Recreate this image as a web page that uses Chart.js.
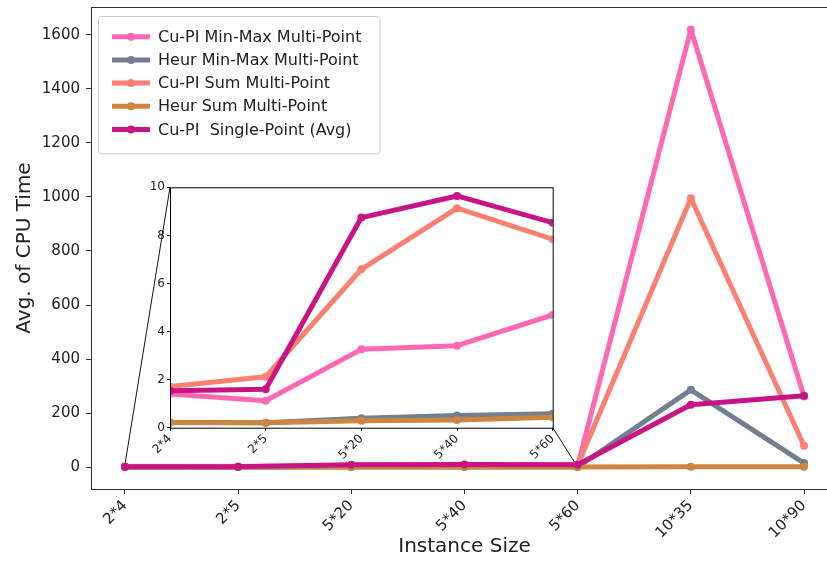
<!DOCTYPE html>
<html>
<head>
<meta charset="utf-8">
<script src="https://cdn.jsdelivr.net/npm/chart.js@4.4.0/dist/chart.umd.min.js"></script>
<style>
  html, body { margin: 0; padding: 0; background: #fff; overflow: hidden; }
  #wrap { position: relative; width: 827px; height: 561px; overflow: hidden; }
  #main { position: absolute; left: 0; top: 0; }
  #inset { position: absolute; left: 120px; top: 177px; }
</style>
</head>
<body>
<div id="wrap">
  <canvas id="main" width="845" height="561"></canvas>
  <canvas id="inset" width="445" height="285"></canvas>
</div>
<script>
// instance sizes along x
const categories = ['2*4', '2*5', '5*20', '5*40', '5*60', '10*35', '10*90'];

// average CPU time per method
const cuMinMax   = [1.40, 1.12, 3.26, 3.41, 4.69, 1620, 261];
const heurMinMax = [0.22, 0.21, 0.39, 0.51, 0.58, 286, 15];
const cuSum      = [1.71, 2.12, 6.59, 9.13, 7.84, 995, 79];
const heurSum    = [0.22, 0.21, 0.29, 0.32, 0.43, 1.5, 1.5];
const cuSingle   = [1.54, 1.60, 8.74, 9.64, 8.53, 231, 264];

const seriesNames = ['Cu-PI Min-Max Multi-Point', 'Heur Min-Max Multi-Point',
  'Cu-PI Sum Multi-Point', 'Heur Sum Multi-Point', 'Cu-PI  Single-Point (Avg)'];
const seriesColors = ['#FF69B4', '#708090', '#FA8072', '#CD853F', '#C71585'];
const seriesValues = [cuMinMax, heurMinMax, cuSum, heurSum, cuSingle];

const yTicks = [0, 200, 400, 600, 800, 1000, 1200, 1400, 1600];
const insetYTicks = [0, 2, 4, 6, 8, 10];
const insetCount = 5; // inset zooms on the first five sizes

const FONT = 'DejaVu Sans';
const SPINE = '#333';

function makeDatasets(lw, r) {
  return seriesValues.map((vals, i) => ({
    label: seriesNames[i],
    data: vals.map((v, k) => ({ x: k, y: v })),
    borderColor: seriesColors[i],
    backgroundColor: seriesColors[i],
    borderWidth: lw,
    borderJoinStyle: 'round',
    pointRadius: r,
    pointHoverRadius: r,
    pointBorderWidth: 0,
    tension: 0,
    order: seriesValues.length - i
  }));
}

function noPad(s) {
  s.paddingTop = 0; s.paddingBottom = 0; s.paddingLeft = 0; s.paddingRight = 0;
}

const framePlugin = {
  id: 'frame',
  afterDatasetsDraw(chart) {
    const { ctx, chartArea: a } = chart;
    ctx.save();
    ctx.strokeStyle = chart.canvas.id === 'inset' ? '#000' : SPINE;
    ctx.lineWidth = 1;
    ctx.strokeRect(a.left + 0.5, a.top + 0.5, a.right - a.left, a.bottom - a.top);
    ctx.restore();
  }
};

const whiteArea = {
  id: 'whiteArea',
  beforeDraw(chart) {
    const { ctx, chartArea: a } = chart;
    ctx.save();
    ctx.fillStyle = '#fff';
    ctx.fillRect(a.left, a.top, a.right - a.left, a.bottom - a.top);
    ctx.restore();
  }
};

// matplotlib-style legend box in the upper left corner
const boxLegend = {
  id: 'boxLegend',
  afterDraw(chart) {
    const { ctx, chartArea: a } = chart;
    const ds = chart.data.datasets;
    ctx.save();
    ctx.font = '16px "' + FONT + '"';
    const tw = Math.max(...ds.map(d => ctx.measureText(d.label).width));
    const x0 = a.left + 7, y0 = a.top + 9;
    const rowH = 23.2;
    const w = 62 + tw + 16, h = 20.7 + rowH * (ds.length - 1) + 23.7;
    ctx.beginPath();
    ctx.roundRect(x0 + 0.5, y0 + 0.5, w, h, 3);
    ctx.fillStyle = 'rgba(255,255,255,0.8)';
    ctx.fill();
    ctx.strokeStyle = '#cccccc';
    ctx.lineWidth = 1;
    ctx.stroke();
    ds.forEach((d, i) => {
      const cy = y0 + 20.7 + i * rowH;
      ctx.strokeStyle = d.borderColor;
      ctx.lineWidth = 5;
      ctx.beginPath();
      ctx.moveTo(x0 + 14, cy);
      ctx.lineTo(x0 + 52, cy);
      ctx.stroke();
      ctx.fillStyle = d.borderColor;
      ctx.beginPath();
      ctx.arc(x0 + 33, cy, 4, 0, Math.PI * 2);
      ctx.fill();
      ctx.fillStyle = '#222';
      ctx.textBaseline = 'middle';
      ctx.fillText(d.label, x0 + 60, cy + 1);
    });
    ctx.restore();
  }
};

// inset chart
const insetChart = new Chart(document.getElementById('inset'), {
  type: 'line',
  data: { datasets: makeDatasets(5, 4) },
  plugins: [whiteArea, framePlugin],
  options: {
    responsive: false,
    animation: false,
    layout: { padding: { left: 0, top: 10.3, right: 12.3, bottom: 0 } },
    plugins: { legend: { display: false }, tooltip: { enabled: false } },
    scales: {
      x: {
        type: 'linear', min: 0, max: insetCount - 1,
        afterBuildTicks: s => { s.ticks = categories.slice(0, insetCount).map((c, i) => ({ value: i })); },
        afterFit: s => { s.height = 34.3; noPad(s); },
        grid: { drawOnChartArea: false, tickLength: 3, tickColor: '#000' },
        border: { display: false },
        ticks: {
          autoSkip: false, minRotation: 45, maxRotation: 45, padding: 1,
          color: '#222', font: { family: FONT, size: 12 },
          callback: v => categories[v]
        }
      },
      y: {
        min: 0, max: 10,
        afterBuildTicks: s => { s.ticks = insetYTicks.map(v => ({ value: v })); },
        afterFit: s => { s.width = 50; noPad(s); },
        grid: { drawOnChartArea: false, tickLength: 3, tickColor: '#000' },
        border: { display: false },
        ticks: { padding: 2, color: '#222', font: { family: FONT, size: 12 } }
      }
    }
  }
});

// lines joining the inset to the zoomed region of the main axes
const insetLinks = {
  id: 'insetLinks',
  beforeDatasetsDraw(chart) {
    const ia = insetChart.chartArea;
    const c = document.getElementById('inset');
    const ox = c.offsetLeft, oy = c.offsetTop;
    const xs = chart.scales.x, ys = chart.scales.y;
    const rx0 = xs.getPixelForValue(0), rx1 = xs.getPixelForValue(insetCount - 1);
    const ry0 = ys.getPixelForValue(0), ry1 = ys.getPixelForValue(insetYTicks[insetYTicks.length - 1]);
    const ctx = chart.ctx;
    ctx.save();
    ctx.strokeStyle = '#111';
    ctx.lineWidth = 1;
    ctx.beginPath();
    ctx.moveTo(ox + ia.left, oy + ia.top);
    ctx.lineTo(rx0, ry1);
    ctx.moveTo(ox + ia.right, oy + ia.bottom);
    ctx.lineTo(rx1, ry0);
    ctx.stroke();
    ctx.strokeStyle = '#888';
    ctx.strokeRect(rx0, ry1, rx1 - rx0, ry0 - ry1);
    ctx.restore();
  }
};

new Chart(document.getElementById('main'), {
  type: 'line',
  data: { datasets: makeDatasets(5, 4) },
  plugins: [insetLinks, framePlugin, boxLegend],
  options: {
    responsive: false,
    animation: false,
    layout: { padding: { left: 0, top: 7, right: 7, bottom: 0 } },
    plugins: { legend: { display: false }, tooltip: { enabled: false } },
    scales: {
      x: {
        type: 'linear', min: -0.3, max: categories.length - 0.7,
        afterBuildTicks: s => { s.ticks = categories.map((c, i) => ({ value: i })); },
        afterFit: s => { s.height = 72; noPad(s); },
        grid: { drawOnChartArea: false, tickLength: 5, tickColor: SPINE },
        border: { display: false },
        ticks: {
          autoSkip: false, minRotation: 45, maxRotation: 45, padding: 3,
          color: '#222', font: { family: FONT, size: 15 },
          callback: v => categories[v]
        },
        title: {
          display: true, text: 'Instance Size', color: '#222',
          font: { family: FONT, size: 20 }, padding: { top: 0, bottom: 2 }
        }
      },
      y: {
        min: -81, max: 1703,
        afterBuildTicks: s => { s.ticks = yTicks.map(v => ({ value: v })); },
        afterFit: s => { s.width = 91; noPad(s); },
        grid: { drawOnChartArea: false, tickLength: 5, tickColor: SPINE },
        border: { display: false },
        ticks: {
          padding: 6, color: '#222', font: { family: FONT, size: 15 },
          callback: v => String(v)
        },
        title: {
          display: true, text: 'Avg. of CPU Time', color: '#222',
          font: { family: FONT, size: 20 }, padding: { top: 13, bottom: 0 }
        }
      }
    }
  }
});
</script>
</body>
</html>
